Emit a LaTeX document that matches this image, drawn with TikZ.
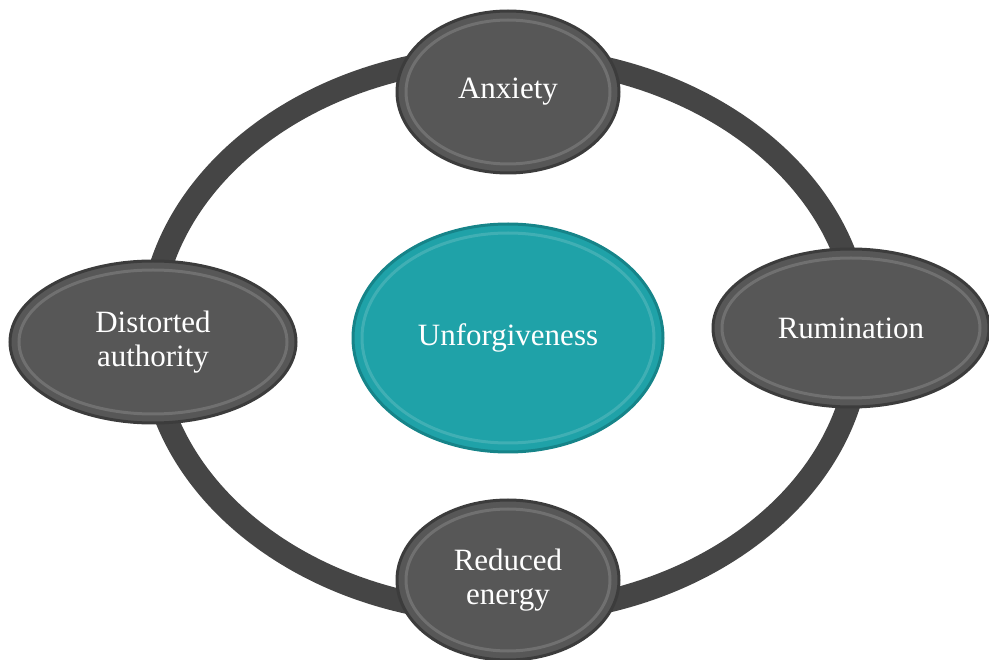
\documentclass[tikz,border=0pt]{standalone}
\usepackage{fontspec}
\setmainfont{Liberation Serif}
\usetikzlibrary{shapes.geometric,calc}
\definecolor{ringgray}{HTML}{454545}
\definecolor{beadgray}{HTML}{575757}
\definecolor{beadrim}{HTML}{3C3C3C}
\definecolor{coreteal}{HTML}{1FA2A8}
\definecolor{corerim}{HTML}{168489}
\begin{document}
\begin{tikzpicture}[x=1pt,y=-1pt,
  ring/.style={ringgray,line width=23pt},
  bead/.style={ellipse,inner sep=0pt,fill=beadgray,draw=beadrim,line width=3pt,
    text=white,align=center,font=\fontsize{31}{34}\selectfont,
    path picture={\draw[white,opacity=.15,line width=3pt]
      let \p1=(path picture bounding box.north east),\p2=(path picture bounding box.center)
      in (\p2) ellipse [x radius=\x1-\x2-9pt,y radius=\y1-\y2-9pt];}},
  core/.style={bead,fill=coreteal,draw=corerim}]
  \useasboundingbox (0,0) rectangle (989,660);
  % the loop behind the four outer ellipses
  \coordinate (hub) at (505,335);
  \draw[ring] (hub) ellipse [x radius=355,y radius=278];
  \node[core,minimum width=310pt,minimum height=228pt] (unforg) at (508,338) {Unforgiveness};
  \node[bead,minimum width=222pt,minimum height=162pt] (anxiety) at (508,92) {Anxiety};
  \node[bead,minimum width=276pt,minimum height=158pt] (rumin) at (851,328) {Rumination};
  \node[bead,minimum width=222pt,minimum height=160pt] (energy) at (508,580) {Reduced\\energy};
  \node[bead,minimum width=286pt,minimum height=162pt] (author) at (153,342) {Distorted\\authority};
\end{tikzpicture}
\end{document}
